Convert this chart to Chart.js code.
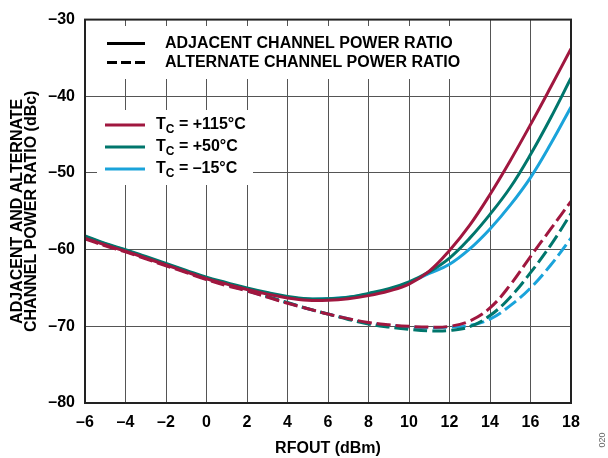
<!DOCTYPE html>
<html>
<head>
<meta charset="utf-8">
<script src="https://cdn.jsdelivr.net/npm/chart.js@4.4.0/dist/chart.umd.min.js"></script>
<style>
html,body{margin:0;padding:0;background:#fff;}
#wrap{width:608px;height:458px;position:relative;}
</style>
</head>
<body>
<div id="wrap"><canvas id="c" width="608" height="458"></canvas></div>
<script>
// ---- data ----
const rfout = [-6,-5,-4,-3,-2,-1,0,1,2,3,4,5,6,7,8,9,10,11,12,13,14,15,16,17,18];
const acpr115 = [-58.5,-59.4,-60.2,-61.1,-62.0,-62.9,-63.8,-64.5,-65.2,-65.8,-66.3,-66.6,-66.6,-66.4,-66.0,-65.4,-64.5,-62.8,-60.1,-56.8,-52.8,-48.4,-43.7,-38.8,-33.8];
const acpr50  = [-58.2,-59.2,-60.0,-60.9,-61.8,-62.7,-63.6,-64.3,-65.0,-65.6,-66.1,-66.4,-66.4,-66.2,-65.7,-65.1,-64.2,-62.9,-61.1,-58.5,-55.4,-51.9,-47.6,-42.8,-37.6];
const acprM15 = [-58.3,-59.25,-60.1,-61.0,-61.9,-62.8,-63.7,-64.4,-65.1,-65.7,-66.2,-66.45,-66.4,-66.2,-65.8,-65.2,-64.3,-63.1,-61.9,-59.9,-57.3,-54.2,-50.6,-46.2,-41.4];
const altcpr115 = [-58.6,-59.5,-60.3,-61.2,-62.1,-63.0,-63.9,-64.7,-65.4,-66.2,-67.0,-67.7,-68.4,-69.0,-69.5,-69.8,-70.0,-70.1,-70.0,-69.3,-67.6,-64.6,-60.9,-57.3,-53.7];
const altcpr50  = [-58.3,-59.3,-60.1,-61.0,-61.9,-62.8,-63.7,-64.5,-65.3,-66.1,-66.9,-67.7,-68.4,-69.1,-69.7,-70.1,-70.4,-70.6,-70.55,-70.05,-68.6,-66.2,-63.0,-59.4,-55.3];
const altcprM15 = [-58.4,-59.4,-60.2,-61.1,-62.0,-62.9,-63.8,-64.6,-65.35,-66.15,-66.95,-67.7,-68.4,-69.0,-69.6,-69.9,-70.1,-70.2,-70.1,-69.9,-69.05,-67.3,-65.0,-62.0,-58.5];
const xTicks = [-6,-4,-2,0,2,4,6,8,10,12,14,16,18];
const yTicks = [-80,-70,-60,-50,-40,-30];
const tempLabels = ['+115°C','+50°C','–15°C'];
const typeLabels = ['ADJACENT CHANNEL POWER RATIO','ALTERNATE CHANNEL POWER RATIO'];

const RED = '#A0173F', TEAL = '#00766C', BLUE = '#1AA3DA';
const FONT = '"Liberation Sans", Arial, sans-serif';

function pts(ys){ return rfout.map((x,i)=>({x:x,y:ys[i]})); }
function ds(ys,color,dashed){
  return {data:pts(ys),borderColor:color,backgroundColor:color,borderWidth:3,pointRadius:0,
    tension:0.4,fill:false,borderDash:dashed?[14,5]:[],borderCapStyle:'butt'};
}
const minus = v => String(v).replace('-', '–');

const decor = {
  id:'decor',
  beforeDatasetsDraw(chart){
    const c = chart.ctx;
    c.save();
    c.fillStyle = '#fff';
    c.fillRect(98,26,376,53);
    c.fillRect(97,110,156,75);
    // type legend
    c.strokeStyle = '#000'; c.lineWidth = 3;
    c.beginPath(); c.setLineDash([]); c.moveTo(107,43.5); c.lineTo(145,43.5); c.stroke();
    c.beginPath(); c.setLineDash([10,4]); c.moveTo(107,62.5); c.lineTo(145,62.5); c.stroke();
    c.setLineDash([]);
    c.fillStyle = '#000'; c.textBaseline = 'middle'; c.textAlign = 'left';
    c.font = 'bold 16px ' + FONT;
    c.fillText(typeLabels[0],165,44);
    c.fillText(typeLabels[1],165,63);
    // temp legend
    const cols = [RED,TEAL,BLUE];
    const ys = [125,147,169];
    for(let i=0;i<3;i++){
      c.strokeStyle = cols[i]; c.lineWidth = 3;
      c.beginPath(); c.moveTo(105,ys[i]); c.lineTo(145,ys[i]); c.stroke();
      c.fillStyle = '#000';
      c.font = 'bold 16px ' + FONT;
      c.fillText('T',156,ys[i]);
      const tw = c.measureText('T').width;
      c.font = 'bold 12px ' + FONT;
      c.fillText('C',156+tw,ys[i]+5);
      const cw = c.measureText('C').width;
      c.font = 'bold 16px ' + FONT;
      c.fillText(' = ' + tempLabels[i],156+tw+cw,ys[i]);
    }
    c.restore();
  },
  afterDraw(chart){
    const c = chart.ctx, a = chart.chartArea;
    c.save();
    c.strokeStyle = '#222'; c.lineWidth = 2;
    c.strokeRect(a.left, a.top, a.right-a.left, a.bottom-a.top);
    c.translate(603,440); c.rotate(-Math.PI/2);
    c.fillStyle = '#666'; c.font = '9px ' + FONT; c.textAlign='center'; c.textBaseline='middle';
    c.fillText('020',0,0);
    c.restore();
  }
};

new Chart(document.getElementById('c'), {
  type:'line',
  data:{datasets:[
    ds(acpr115,RED,false), ds(acpr50,TEAL,false), ds(acprM15,BLUE,false),
    ds(altcpr115,RED,true), ds(altcpr50,TEAL,true), ds(altcprM15,BLUE,true)
  ]},
  options:{
    responsive:false, animation:false, devicePixelRatio:1,
    layout:{padding:{top:15,right:37,left:0,bottom:0}},
    plugins:{legend:{display:false},tooltip:{enabled:false}},
    scales:{
      x:{type:'linear',min:-6,max:18,
        afterBuildTicks:s=>{s.ticks = xTicks.map(v=>({value:v}));},
        afterFit:s=>{s.height = 55;},
        grid:{color:'#555',lineWidth:1,drawTicks:false},
        border:{color:'#000',width:2},
        ticks:{padding:10,color:'#000',font:{family:FONT,weight:'bold',size:16},callback:v=>minus(v),maxRotation:0},
        title:{display:true,text:'RFOUT (dBm)',color:'#000',font:{family:FONT,weight:'bold',size:16},padding:{top:10,bottom:0}}
      },
      y:{type:'linear',min:-80,max:-30,
        afterBuildTicks:s=>{s.ticks = yTicks.map(v=>({value:v}));},
        afterFit:s=>{s.width = 85;},
        grid:{color:'#555',lineWidth:1,drawTicks:false},
        border:{color:'#000',width:2},
        ticks:{padding:10,color:'#000',font:{family:FONT,weight:'bold',size:16},callback:v=>minus(v)},
        title:{display:true,text:['ADJACENT AND ALTERNATE','CHANNEL POWER RATIO (dBc)'],color:'#000',font:{family:FONT,weight:'bold',size:16,lineHeight:0.9},padding:{top:10,bottom:0}}
      }
    }
  },
  plugins:[decor]
});
</script>
</body>
</html>
